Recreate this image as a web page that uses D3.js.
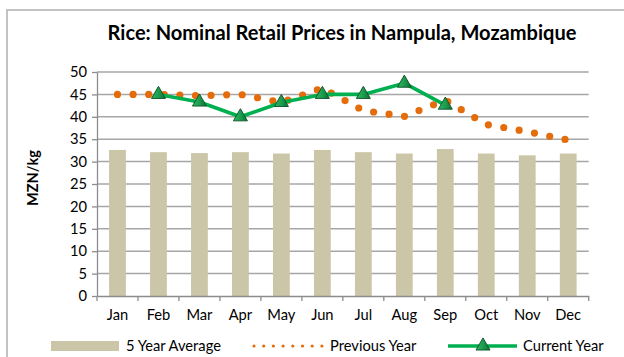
<!DOCTYPE html>
<html>
<head>
<meta charset="utf-8">
<script src="https://cdn.jsdelivr.net/npm/d3@7"></script>
<style>
  html, body { margin: 0; padding: 0; background: #fff; }
  svg { display: block; font-family: Lato, "Open Sans", sans-serif; }
</style>
</head>
<body>
<svg id="chart" width="624" height="357"></svg>
<script>
// Monthly rice retail prices, Nampula (MZN/kg)
const months = ["Jan","Feb","Mar","Apr","May","Jun","Jul","Aug","Sep","Oct","Nov","Dec"];
const fiveYearAverage = [32.6, 32.1, 31.9, 32.1, 31.8, 32.6, 32.1, 31.8, 32.8, 31.8, 31.4, 31.8];
const previousYear   = [45.0, 45.0, 44.7, 45.0, 43.2, 46.4, 41.4, 40.1, 43.7, 38.3, 36.7, 34.8];
const currentYear    = [null, 45.0, 43.3, 40.0, 43.2, 45.0, 45.0, 47.5, 42.6, null, null, null];
const yTicks = [0, 5, 10, 15, 20, 25, 30, 35, 40, 45, 50];
const chartTitle = "Rice: Nominal Retail Prices in Nampula, Mozambique";
const yAxisTitle = "MZN/kg";
const legendLabels = ["5 Year Average", "Previous Year", "Current Year"];

const svg = d3.select("#chart");
const plotLeft = 97, plotRight = 588.7, plotTop = 72, plotBottom = 296;
const fs = 14.7;

const x = d3.scaleBand().domain(months).range([plotLeft, plotRight]).padding(0);
const y = d3.scaleLinear().domain([0, 50]).range([plotBottom, plotTop]);
const cx = m => x(m) + x.bandwidth() / 2;

// outer frame
svg.append("rect")
  .attr("x", 7).attr("y", 10).attr("width", 640).attr("height", 400)
  .attr("fill", "none").attr("stroke", "#bcbcbc").attr("stroke-width", 1.8);

// title
const title = svg.append("text")
  .attr("x", 342).attr("y", 40)
  .attr("text-anchor", "middle")
  .attr("font-weight", "bold").attr("font-size", 18).attr("fill", "#000")
  .text(chartTitle);
const tw = title.node().getComputedTextLength();
title.attr("font-size", 18 * 469 / tw);

// horizontal gridlines
svg.append("g").selectAll("line").data(yTicks.filter(t => t > 0)).join("line")
  .attr("x1", plotLeft).attr("x2", plotRight)
  .attr("y1", d => y(d)).attr("y2", d => y(d))
  .attr("stroke", "#a6a6a6").attr("stroke-width", 1.5);

// y axis
const yAxis = svg.append("g")
  .attr("transform", `translate(${plotLeft},0)`)
  .call(d3.axisLeft(y).tickValues(yTicks).tickSize(5).tickPadding(5).tickSizeOuter(0));
yAxis.select(".domain").attr("stroke", "#8c8c8c").attr("stroke-width", 1.3);
yAxis.selectAll(".tick line").attr("stroke", "#8c8c8c").attr("stroke-width", 1.3);
yAxis.selectAll("text").attr("font-size", fs).attr("fill", "#000")
  .attr("font-family", "Lato, 'Open Sans', sans-serif");

// y axis title
svg.append("text")
  .attr("transform", `translate(37.5,178) rotate(-90)`)
  .attr("text-anchor", "middle")
  .attr("font-weight", "bold").attr("font-size", 14.5)
  .text(yAxisTitle);

// bars: 5 year average
const barW = x.bandwidth() * 0.41;
svg.append("g").selectAll("rect").data(months).join("rect")
  .attr("x", (m) => cx(m) - barW / 2)
  .attr("width", barW)
  .attr("y", (m, i) => y(fiveYearAverage[i]))
  .attr("height", (m, i) => y(0) - y(fiveYearAverage[i]))
  .attr("fill", "#cbc6a8");

// x axis
const xAxis = svg.append("g")
  .attr("transform", `translate(0,${plotBottom})`)
  .call(d3.axisBottom(x).tickSize(0).tickPadding(14).tickSizeOuter(0));
xAxis.select(".domain").attr("stroke", "#8c8c8c").attr("stroke-width", 1.3);
xAxis.selectAll("text").attr("font-size", fs).attr("fill", "#000")
  .attr("font-family", "Lato, 'Open Sans', sans-serif");
// category boundary ticks
svg.append("g").selectAll("line").data(d3.range(months.length + 1)).join("line")
  .attr("x1", i => plotLeft + i * x.bandwidth()).attr("x2", i => plotLeft + i * x.bandwidth())
  .attr("y1", plotBottom).attr("y2", plotBottom + 5)
  .attr("stroke", "#8c8c8c").attr("stroke-width", 1.3);

// previous year: round-dot line
const prevLine = d3.line().x((d, i) => cx(months[i])).y(d => y(d));
svg.append("path")
  .attr("d", prevLine(previousYear))
  .attr("fill", "none").attr("stroke", "#e46c0a")
  .attr("stroke-width", 7.2).attr("stroke-linecap", "round")
  .attr("stroke-dasharray", "0 15.6");

// current year line with triangle markers
const curPts = currentYear.map((v, i) => ({ m: months[i], v })).filter(d => d.v !== null);
const curLine = d3.line().x(d => cx(d.m)).y(d => y(d.v));
svg.append("path")
  .attr("d", curLine(curPts))
  .attr("fill", "none").attr("stroke", "#00b050").attr("stroke-width", 3.6)
  .attr("stroke-linejoin", "round");

const defs = svg.append("defs");
const grad = defs.append("linearGradient").attr("id", "triFill")
  .attr("x1", 0).attr("x2", 1).attr("y1", 0).attr("y2", 0);
grad.append("stop").attr("offset", "0%").attr("stop-color", "#2fb863");
grad.append("stop").attr("offset", "55%").attr("stop-color", "#1a9a4c");
grad.append("stop").attr("offset", "100%").attr("stop-color", "#0d6e34");

const tri = d3.symbol().type(d3.symbolTriangle).size(85);
svg.append("g").selectAll("path").data(curPts).join("path")
  .attr("transform", d => `translate(${cx(d.m)},${y(d.v)})`)
  .attr("d", tri)
  .attr("fill", "url(#triFill)").attr("stroke", "#0a4f27").attr("stroke-width", 0.9);

// legend
const ly = 346;
svg.append("rect").attr("x", 51).attr("y", ly - 5).attr("width", 68).attr("height", 10)
  .attr("fill", "#cbc6a8");
svg.append("text").attr("x", 126).attr("y", ly + 5).attr("font-size", fs).text(legendLabels[0]);

svg.append("line").attr("x1", 254).attr("x2", 322).attr("y1", ly).attr("y2", ly)
  .attr("stroke", "#e46c0a").attr("stroke-width", 3.2).attr("stroke-linecap", "round")
  .attr("stroke-dasharray", "0 9.7");
svg.append("text").attr("x", 330).attr("y", ly + 5).attr("font-size", fs).text(legendLabels[1]);

svg.append("line").attr("x1", 448).attr("x2", 517).attr("y1", ly).attr("y2", ly)
  .attr("stroke", "#00b050").attr("stroke-width", 3.6);
svg.append("path").attr("transform", `translate(483,${ly})`).attr("d", tri)
  .attr("fill", "url(#triFill)").attr("stroke", "#0a4f27").attr("stroke-width", 0.9);
svg.append("text").attr("x", 523).attr("y", ly + 5).attr("font-size", fs).text(legendLabels[2]);
</script>
</body>
</html>
